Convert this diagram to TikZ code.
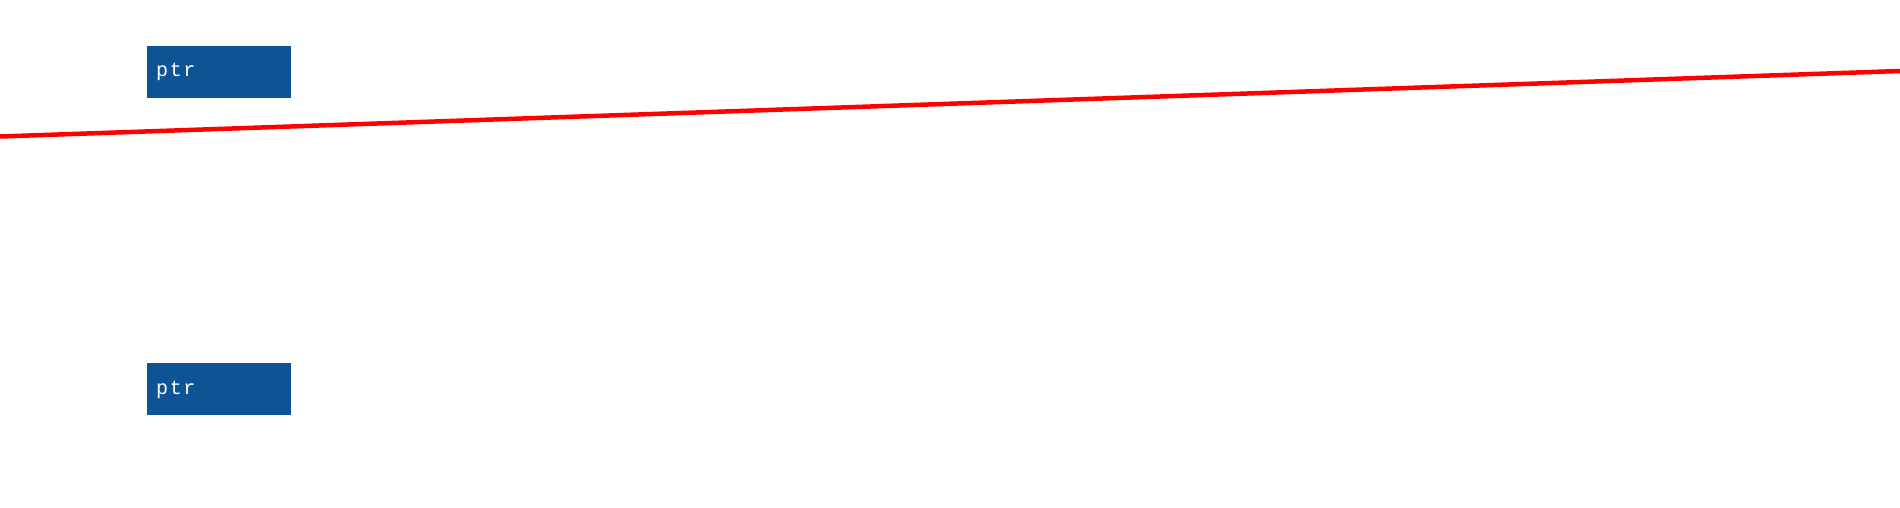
\documentclass[tikz,border=0pt]{standalone}
\usepackage{fontspec}
\newfontfamily\monof[LetterSpace=8]{Liberation Mono}
\definecolor{boxblue}{HTML}{0E5494}
\begin{document}
\begin{tikzpicture}[x=1pt,y=-1pt,
  ptrbox/.style={fill=boxblue,draw=none,minimum width=144pt,minimum height=52pt,inner sep=0pt,anchor=north west},
  ptrlabel/.style={text=white,font=\monof\fontsize{20}{20}\selectfont,anchor=base west,inner sep=0pt}]
\useasboundingbox (0,0) rectangle (1900,508);
\node[ptrbox] (b1) at (147,46) {};
\node[ptrlabel] (t1) at (156,77) {ptr};
\node[ptrbox] (b2) at (147,363) {};
\node[ptrlabel] (t2) at (156,394) {ptr};
\coordinate (l1) at (0,136.5);
\coordinate (l2) at (1900,71);
\draw[red,line width=4.5pt] (l1) -- (l2);
\end{tikzpicture}
\end{document}
